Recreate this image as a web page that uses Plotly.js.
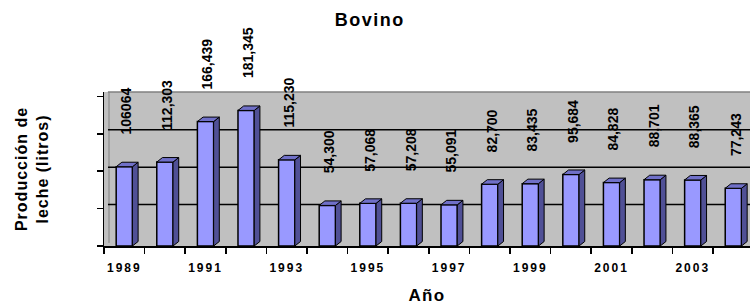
<!DOCTYPE html>
<html>
<head>
<meta charset="utf-8">
<script src="https://cdn.plot.ly/plotly-3.0.1.min.js"></script>
<style>
  html, body { margin: 0; padding: 0; background: #ffffff; }
  #chart { width: 750px; height: 305px; }
  .xtick text { letter-spacing: 2px; }
  .gtitle { letter-spacing: 1.5px; }
  .xtitle { letter-spacing: 1.3px; }
  .ytitle { letter-spacing: 1px; }
</style>
</head>
<body>
<div id="chart"></div>
<script>
// ---- data ----
var years = [1989, 1990, 1991, 1992, 1993, 1994, 1995, 1996, 1997, 1998, 1999, 2000, 2001, 2002, 2003, 2004];
var production = [106064, 112303, 166439, 181345, 115230, 54300, 57068, 57208, 55091, 82700, 83435, 95684, 84828, 88701, 88365, 77243];
var valueLabels = ["106064", "112,303", "166,439", "181,345", "115,230", "54,300", "57,068", "57,208", "55,091", "82,700", "83,435", "95,684", "84,828", "88,701", "88,365", "77,243"];
var tickYears = [1989, 1991, 1993, 1995, 1997, 1999, 2001, 2003];
var tickLabels = ["1989", "1991", "1993", "1995", "1997", "1999", "2001", "2003"];
var yTicks = [0, 50000, 100000, 150000, 200000];
var gridValues = [50000, 100000, 150000];

// ---- styling ----
var FONT = "Arial, 'Liberation Sans', sans-serif";
var barW = 0.4;      // front face width (category units)
var depthX = 0.14;   // 3D depth along x
var depthY = 6000;   // 3D depth along y (value units)

// side and top faces of the 3D bars, derived from the data
var sideX = [], sideY = [], topX = [], topY = [];
for (var i = 0; i < years.length; i++) {
  var x = years[i], v = production[i];
  var r = x + barW / 2, l = x - barW / 2;
  sideX.push(r, r, r + depthX, r + depthX, r, null);
  sideY.push(0, v, v + depthY, depthY, 0, null);
  topX.push(l, r, r + depthX, l + depthX, l, null);
  topY.push(v, v, v + depthY, v + depthY, v, null);
}

var traces = [
  {
    type: 'bar', x: years, y: production, width: barW,
    marker: { color: '#9999ff', line: { color: '#000000', width: 1.5 } },
    hoverinfo: 'x+y', showlegend: false
  },
  {
    type: 'scatter', mode: 'lines', x: sideX, y: sideY, fill: 'toself',
    fillcolor: '#505096', line: { color: '#000000', width: 1 },
    hoverinfo: 'skip', showlegend: false, connectgaps: false
  },
  {
    type: 'scatter', mode: 'lines', x: topX, y: topY, fill: 'toself',
    fillcolor: '#7070c8', line: { color: '#000000', width: 1 },
    hoverinfo: 'skip', showlegend: false, connectgaps: false
  }
];

// gridlines drawn on the back wall (slightly offset up/right like the 3D chart)
var shapes = gridValues.map(function (g) {
  return {
    type: 'line', layer: 'below',
    xref: 'x', xsizemode: 'pixel', xanchor: 1988.5, x0: 4, x1: 700,
    yref: 'y', ysizemode: 'pixel', yanchor: g, y0: 4, y1: 4,
    line: { color: '#000000', width: 1.5 }
  };
});
shapes.push({
  type: 'line', layer: 'below', xref: 'paper', yref: 'paper',
  x0: 0.006, x1: 1, y0: 1, y1: 1, line: { color: '#808080', width: 1.5 }
});
shapes.push({
  type: 'line', layer: 'below', xref: 'x', xsizemode: 'pixel', xanchor: 1988.5, x0: 5, x1: 5,
  yref: 'paper', y0: 0.02, y1: 1, line: { color: '#808080', width: 1 }
});

var annotations = years.map(function (yr, i) {
  return {
    x: yr, y: production[i], xref: 'x', yref: 'y',
    text: valueLabels[i], showarrow: false, textangle: -90,
    xanchor: 'center', yanchor: 'bottom', yshift: 30, xshift: 2,
    font: { family: FONT, size: 14, color: '#000000', weight: 'bold' }
  };
});

var layout = {
  width: 750, height: 305,
  margin: { l: 104, r: 0, t: 92, b: 59, pad: 0 },
  paper_bgcolor: '#ffffff',
  plot_bgcolor: '#c0c0c0',
  showlegend: false,
  bargap: 0,
  title: {
    text: 'Bovino', x: 0.493, xanchor: 'center', y: 0.936, yanchor: 'middle',
    font: { family: FONT, size: 18, color: '#000000', weight: 'bold' }
  },
  xaxis: {
    type: 'linear', range: [1988.5, 2004.41], automargin: false,
    tickmode: 'array', tickvals: tickYears, ticktext: tickLabels,
    ticks: '', showgrid: false, zeroline: false,
    showline: true, linecolor: '#000000', linewidth: 1.5,
    tickfont: { family: FONT, size: 12, color: '#000000', weight: 'bold' },
    ticklabelstandoff: 10,
    minor: { tickmode: 'linear', tick0: 1988.5, dtick: 1, ticks: 'outside', ticklen: 6, tickwidth: 1.5, tickcolor: '#000000', showgrid: false },
    title: { text: 'Año', standoff: 16, font: { family: FONT, size: 17, color: '#000000', weight: 'bold' } },
    fixedrange: true
  },
  yaxis: {
    range: [0, 206000], automargin: false,
    tickmode: 'array', tickvals: yTicks,
    ticks: 'outside', ticklen: 6, tickwidth: 1.5, tickcolor: '#000000',
    showticklabels: false, showgrid: false, zeroline: false,
    showline: true, linecolor: '#000000', linewidth: 1.5,
    title: { text: 'Producción de<br>leche (litros)', standoff: 44, font: { family: FONT, size: 16, color: '#000000', weight: 'bold' } },
    fixedrange: true
  },
  shapes: shapes,
  annotations: annotations
};

Plotly.newPlot('chart', traces, layout, { displayModeBar: false, staticPlot: true });
</script>
</body>
</html>
